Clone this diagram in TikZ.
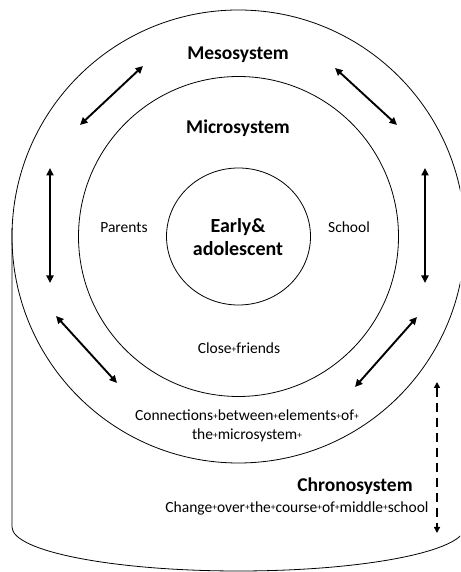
\documentclass[tikz,border=0pt]{standalone}
\usepackage{fontspec}
\setmainfont{Carlito}
\usetikzlibrary{arrows.meta}
% word gap printed as a small raised cross
\newcommand{\gapmark}{\raisebox{0.08em}{\fontsize{9.5}{9.5}\selectfont +}}
\begin{document}
\begin{tikzpicture}[x=1pt,y=1pt,
  ring/.style={draw=black,line width=0.8pt},
  link/.style={line width=1.9pt,{Triangle[length=7.5pt,width=7pt]}-{Triangle[length=7.5pt,width=7pt]}},
  timelink/.style={line width=2.2pt,dash pattern=on 9pt off 6pt,{Triangle[length=6pt,width=6pt]}-{Triangle[length=6pt,width=6pt]}},
  heading/.style={font=\fontsize{19.5}{22}\selectfont\bfseries,align=center,inner sep=0pt},
  label/.style={font=\fontsize{15.5}{18.5}\selectfont,align=center,inner sep=0pt}]
\useasboundingbox (0,0) rectangle (460,572);
\begin{scope}
\clip (0,0) rectangle (460,572);
% chronosystem cylinder: side walls and bottom rim
\draw[ring] (12,344) -- (12,45) arc[start angle=180,end angle=360,x radius=226.5,y radius=44] -- (465,344);
% nested system rings
\draw[ring] (238.5,335.5) circle[radius=226.5];
\draw[ring] (238.5,335.5) circle[radius=160];
\draw[ring] (238.5,335.5) ellipse[x radius=72,y radius=68.5];
\end{scope}

% texts
\node[heading] (meso) at (238,517.5) {Mesosystem};
\node[heading] (micro) at (238,444) {Microsystem};
\node[heading,font=\fontsize{20}{22.5}\selectfont\bfseries] (child) at (238,335) {Early\&\\adolescent};
\node[label] (parents) at (124,344) {Parents};
\node[label] (school) at (349,345) {School};
\node[label] (friends) at (239,224) {Close\gapmark friends};
\node[label] (links) at (247,146) {Connections\gapmark between\gapmark elements\gapmark of\gapmark\\the\gapmark microsystem\gapmark};
\node[heading] (chrono) at (355,86) {Chronosystem};
\node[label] (change) at (297,64) {Change\gapmark over\gapmark the\gapmark course\gapmark of\gapmark middle\gapmark school};

% arrow end points in the mesosystem ring
\coordinate (ulA) at (80,447);  \coordinate (ulB) at (143,506);
\coordinate (urA) at (335,504); \coordinate (urB) at (397,447);
\coordinate (lA) at (50,404);   \coordinate (lB) at (50,289);
\coordinate (rA) at (425,404);  \coordinate (rB) at (425,289);
\coordinate (llA) at (56,256);  \coordinate (llB) at (117,189);
\coordinate (lrA) at (417,255); \coordinate (lrB) at (355,185);
\coordinate (tA) at (437,190);  \coordinate (tB) at (437,39);

\draw[link] (ulA) -- (ulB);
\draw[link] (urA) -- (urB);
\draw[link] (lA) -- (lB);
\draw[link] (rA) -- (rB);
\draw[link] (llA) -- (llB);
\draw[link] (lrA) -- (lrB);
\draw[timelink] (tA) -- (tB);
\end{tikzpicture}
\end{document}
